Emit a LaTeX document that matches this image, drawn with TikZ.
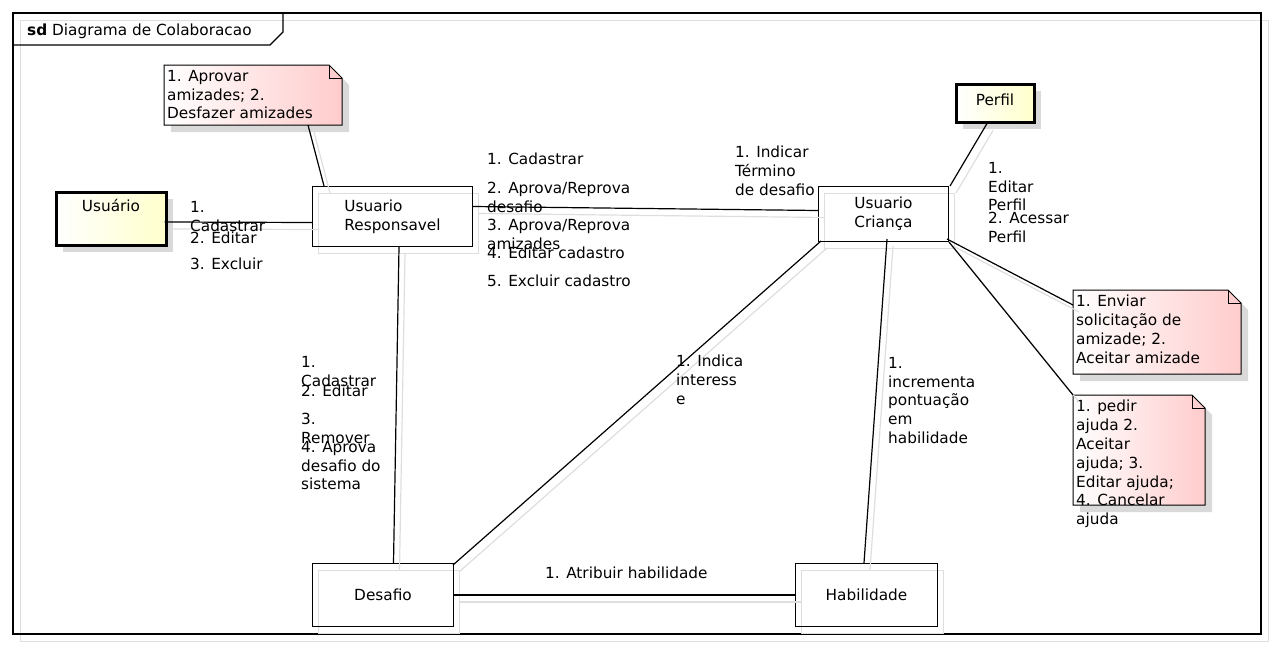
\documentclass[tikz,border=0pt]{standalone}
\usepackage{fontspec}
\setmainfont{DejaVu Sans}
\usetikzlibrary{positioning}
\usetikzlibrary{calc}
\usetikzlibrary{shadows}

\definecolor{noteRed}{RGB}{255,204,204}
\definecolor{actorYellow}{RGB}{255,255,204}
\definecolor{shadowGray}{RGB}{217,217,217}
\definecolor{lineShadow}{RGB}{222,222,222}
\newcommand{\diagfont}{\fontsize{15.3pt}{18.8pt}\selectfont}
% note body: corner x, corner y, width, height
\newcommand{\notebody}[4]{%
  \fill[shadowGray] ({#1+7},{#2+7}) -- ({#1+#3-6},{#2+7}) -- ({#1+#3+7},{#2+20}) -- ({#1+#3+7},{#2+#4+7}) -- ({#1+7},{#2+#4+7}) -- cycle;
  \shadedraw[left color=white, right color=noteRed, draw=black, line width=1pt] (#1,#2) -- ({#1+#3-13},#2) -- ({#1+#3},{#2+13}) -- ({#1+#3},{#2+#4}) -- (#1,{#2+#4}) -- cycle;
  \draw[line width=1pt] ({#1+#3-13},#2) -- ({#1+#3-13},{#2+13}) -- ({#1+#3},{#2+13});
}

\begin{document}
\begin{tikzpicture}[x=1pt,y=1pt,yscale=-1,
  every node/.style={font=\diagfont},
  lbl/.style={anchor=north west, inner sep=0pt, align=left},
  notetext/.style={anchor=north west, inner xsep=3pt, inner ysep=5pt, align=left},
  objbox/.style={draw, line width=1pt, inner sep=0pt, anchor=north west, align=center,
    general shadow={draw=lineShadow, fill=none, shadow xshift=6pt, shadow yshift=-7pt}},
  actorbox/.style={draw, line width=3pt, inner sep=0pt, anchor=north west, left color=white, right color=actorYellow,
    drop shadow={shadow xshift=7pt, shadow yshift=-7pt, fill=shadowGray, opacity=1}},
  link/.style={line width=1.2pt, preaction={draw=lineShadow, line width=1.2pt, transform canvas={xshift=6pt, yshift=-7pt}}}]
\useasboundingbox (0,0) rectangle (1274,648);

%Shape: Frame
\draw[lineShadow, line width=1pt] (20,20) rectangle (1268,641);
\draw[line width=1.2pt] (13,13) rectangle (1261,634);
\draw[line width=1.2pt] (13,45) -- (270,45) -- (283,32) -- (283,13);
% Text Node
\node[lbl] (ttl) at (27,24) {\textbf{sd} Diagrama de Colaboracao};

%Shape: Notes
\notebody{164}{65}{178}{60}
\notebody{1073}{290}{168}{84}
\notebody{1073}{395}{132}{110}
\node[notetext] (n1) at (164,65) {1. Aprovar\\amizades; 2.\\Desfazer amizades};
\node[notetext] (n2) at (1073,290) {1. Enviar\\solicitação de\\amizade; 2.\\Aceitar amizade};
\node[notetext] (n3) at (1073,395) {1. pedir\\ajuda 2.\\Aceitar\\ajuda; 3.\\Editar ajuda;\\4. Cancelar\\ajuda};

%Shape: Objects
\node[actorbox, minimum width=110pt, minimum height=53pt, text height=19.1pt, text depth=33.9pt] (usr) at (54.5,190.5) {Usuário};
\node[actorbox, minimum width=78pt, minimum height=38pt, text height=21pt, text depth=17pt] (perf) at (954.5,82.5) {Perfil};
\node[objbox, minimum width=160pt, minimum height=60pt, align=left] (resp) at (312,186) {Usuario\\Responsavel};
\node[objbox, minimum width=130pt, minimum height=55pt] (cri) at (818,186) {Usuario\\Criança};
\node[objbox, minimum width=141pt, minimum height=63pt] (des) at (312,563) {Desafio};
\node[objbox, minimum width=142pt, minimum height=63pt] (hab) at (795,563) {Habilidade};

%Shape: Links
\draw[link] ($(usr.east)+(-3,3.5)$) -- ($(resp.west)+(0,6)$);
\draw[link] ($(n1.north west)+(144,60)$) -- ($(resp.north west)+(12,0)$);
\draw[link] ($(resp.east)+(0,-10)$) -- ($(cri.west)+(0,-3.5)$);
\draw[link] ($(perf.south)+(-8,0)$) -- ($(cri.north east)+(1,0)$);
\draw[link] ($(cri.south east)+(-2,-3)$) -- ($(n2.north west)+(0,15)$);
\draw[link] (cri.south east) -- (n3.north west);
\draw[link] ($(resp.south)+(6.5,0)$) -- ($(des.north)+(10.5,0)$);
\draw[link] ($(cri.south west)+(3,-1)$) -- ($(des.north east)+(-1,2)$);
\draw[link] ($(cri.south)+(3.5,-3)$) -- ($(hab.north)+(-2.5,0)$);
\draw[link] (des.east) -- (hab.west);

% Text Node
\node[lbl] (cad1) at (190,201) {1.\\Cadastrar};
\node[lbl] (edt1) at (190,232) {2. Editar};
\node[lbl] (exc1) at (190,258) {3. Excluir};
% Text Node
\node[lbl] (cad2) at (487,153) {1. Cadastrar};
\node[lbl] (apd2) at (487,182) {2. Aprova/Reprova\\desafio};
\node[lbl] (apa2) at (487,219) {3. Aprova/Reprova\\amizades};
\node[lbl] (edt2) at (487,247) {4. Editar cadastro};
\node[lbl] (exc2) at (487,275) {5. Excluir cadastro};
% Text Node
\node[lbl] (fim) at (735,146) {1. Indicar\\Término\\de desafio};
\node[lbl] (edp) at (988,162) {1.\\Editar\\Perfil};
\node[lbl] (acp) at (988,212) {2. Acessar\\Perfil};
% Text Node
\node[lbl] (cad3) at (301,356) {1.\\Cadastrar};
\node[lbl] (edt3) at (301,385) {2. Editar};
\node[lbl] (rem3) at (301,413) {3.\\Remover};
\node[lbl] (apr3) at (301,441) {4. Aprova\\desafio do\\sistema};
% Text Node
\node[lbl] (int) at (676,355) {1. Indica\\interess\\e};
\node[lbl] (pts) at (888,357) {1.\\incrementa\\pontuação\\em\\habilidade};
\node[lbl] (atr) at (545,567) {1. Atribuir habilidade};

\end{tikzpicture}
\end{document}
